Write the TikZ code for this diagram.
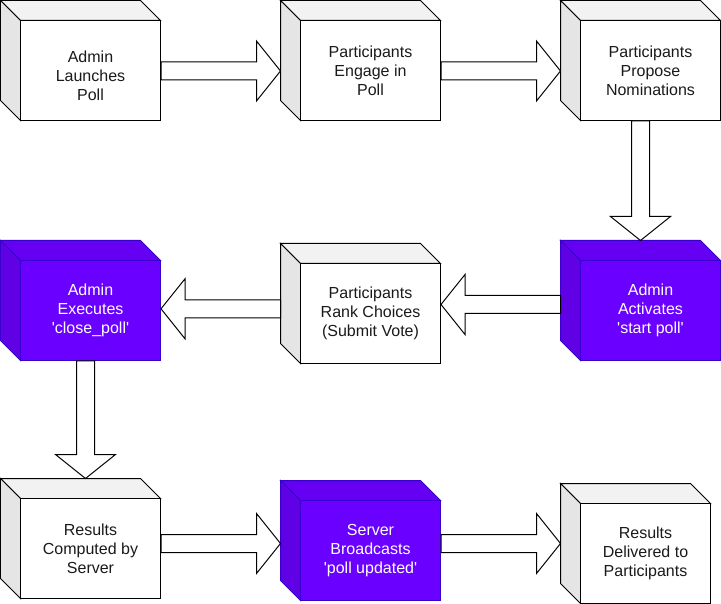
\documentclass[tikz,border=0pt]{standalone}
\usepackage{fontspec}
\setmainfont{Liberation Sans}
\usetikzlibrary{calc}
\definecolor{vfill}{HTML}{6A00FF}
\definecolor{vstroke}{HTML}{3700CC}
\definecolor{txtdark}{HTML}{1A1A1A}
\tikzset{
  wtop/.style={fill=white!95!black, draw=black, line width=1pt},
  wside/.style={fill=white!90!black, draw=black, line width=1pt},
  wface/.style={fill=white, draw=black, line width=1pt, text=txtdark},
  ptop/.style={fill=vfill!95!black, draw=vstroke, line width=1pt},
  pside/.style={fill=vfill!90!black, draw=vstroke, line width=1pt},
  pface/.style={fill=vfill, draw=vstroke, line width=1pt, text=white},
  face/.style={rectangle, inner sep=0pt, font=\fontsize{16}{19}\selectfont, align=center},
  blockarrow/.style={fill=white, draw=black, line width=1pt, line join=miter}
}
% #1 name, #2 x, #3 y (down), #4 width, #5 height, #6 w/p, #7 text
\newcommand\cubebox[7]{%
  \pgfmathsetmacro\cbXa{#2}\pgfmathsetmacro\cbXb{#2+20}%
  \pgfmathsetmacro\cbXc{#2+#4-20}\pgfmathsetmacro\cbXd{#2+#4}%
  \pgfmathsetmacro\cbYa{-(#3)}\pgfmathsetmacro\cbYb{-(#3)-20}%
  \pgfmathsetmacro\cbYc{-(#3)-(#5)+20}\pgfmathsetmacro\cbYd{-(#3)-(#5)}%
  \pgfmathsetmacro\cbXm{#2+10+(#4)/2}\pgfmathsetmacro\cbYm{-(#3)-10-(#5)/2}%
  \pgfmathsetmacro\cbW{#4-20}\pgfmathsetmacro\cbH{#5-20}%
  \coordinate (#1-nw) at (\cbXa,\cbYa);
  \path[#6top] (\cbXa,\cbYa) -- (\cbXc,\cbYa) -- (\cbXd,\cbYb) -- (\cbXb,\cbYb) -- cycle;
  \path[#6side] (\cbXa,\cbYa) -- (\cbXb,\cbYb) -- (\cbXb,\cbYd) -- (\cbXa,\cbYc) -- cycle;
  \node[face, #6face, minimum width=\cbW pt, minimum height=\cbH pt] (#1) at (\cbXm,\cbYm) {#7};
}
% block arrows: #1 start, #2 end, #3 image y (or x for vertical)
\newcommand\arrowR[3]{%
  \draw[blockarrow] let \p1=(#1), \p2=(#2) in
    (\x1,{-(#3)+9}) -- ({\x2-24pt},{-(#3)+9}) -- ({\x2-24pt},{-(#3)+30}) -- (\x2,{-(#3)})
    -- ({\x2-24pt},{-(#3)-30}) -- ({\x2-24pt},{-(#3)-9}) -- (\x1,{-(#3)-9}) -- cycle;}
\newcommand\arrowL[3]{%
  \draw[blockarrow] let \p1=(#1), \p2=(#2) in
    (\x1,{-(#3)+9}) -- ({\x2+24pt},{-(#3)+9}) -- ({\x2+24pt},{-(#3)+30}) -- (\x2,{-(#3)})
    -- ({\x2+24pt},{-(#3)-30}) -- ({\x2+24pt},{-(#3)-9}) -- (\x1,{-(#3)-9}) -- cycle;}
\newcommand\arrowD[3]{%
  \draw[blockarrow] let \p1=(#1), \p2=(#2) in
    ({#3-9},\y1) -- ({#3-9},{\y2+24pt}) -- ({#3-30},{\y2+24pt}) -- (#3,\y2)
    -- ({#3+30},{\y2+24pt}) -- ({#3+9},{\y2+24pt}) -- ({#3+9},\y1) -- cycle;}
\newcommand\ctext[1]{\begin{tabular}{@{}c@{}}#1\end{tabular}}
\newcommand\sq{\textquotesingle}
\begin{document}
\begin{tikzpicture}[x=1pt,y=1pt]
\useasboundingbox (-0.5,0.5) rectangle (720.5,-603.5);
\cubebox{A}{0}{0}{160}{120}{w}{\ctext{\rule{0pt}{27.3pt}Admin\\Launches\\Poll}}
\cubebox{B}{280}{0}{160}{120}{w}{Participants\\Engage in\\Poll}
\cubebox{C}{560}{0}{160}{120}{w}{Participants\\Propose\\Nominations}
\cubebox{D}{560}{240}{160}{120}{p}{Admin\\Activates\\\sq start poll\sq}
\cubebox{E}{280}{243}{160}{120}{w}{Participants\\Rank Choices\\(Submit Vote)}
\cubebox{F}{0}{240}{160}{120}{p}{Admin\\Executes\\\sq close\_poll\sq}
\cubebox{G}{0}{478}{160}{120}{w}{Results\\Computed by\\Server}
\cubebox{H}{280}{480}{160}{120}{p}{Server\\Broadcasts\\\sq poll updated\sq}
\cubebox{I}{560}{483}{150}{120}{w}{Results\\Delivered to\\Participants}
\arrowR{A.east}{B-nw}{70.5}
\arrowR{B.east}{C-nw}{70.5}
\arrowD{C.south}{D-nw}{640}
\arrowL{D-nw}{E.east}{304}
\arrowL{E-nw}{F.east}{308.3}
\arrowD{F.south}{G-nw}{85}
\arrowR{G.east}{H-nw}{543}
\arrowR{H.east}{I-nw}{543}
\end{tikzpicture}
\end{document}
